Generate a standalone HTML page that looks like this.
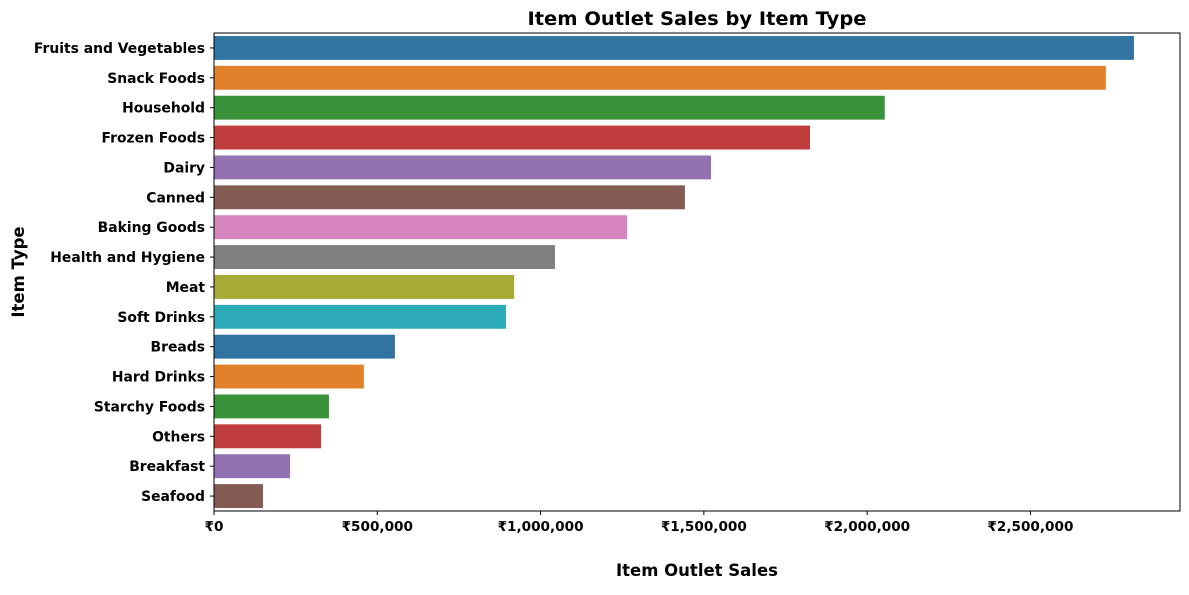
<!DOCTYPE html>
<html><head><meta charset="utf-8"><style>
body{margin:0;background:#fff;font-family:"Liberation Sans","DejaVu Sans",sans-serif}
</style></head><body>
<svg id="chart" width="1189" height="590" xmlns="http://www.w3.org/2000/svg" font-family="'DejaVu Sans','Liberation Sans',sans-serif">
<text x="697" y="25" text-anchor="middle" font-size="19" font-weight="bold" textLength="339" lengthAdjust="spacingAndGlyphs">Item Outlet Sales by Item Type</text>
<text x="697" y="576" text-anchor="middle" font-size="16.5" font-weight="bold">Item Outlet Sales</text>
<text transform="translate(24,272) rotate(-90)" text-anchor="middle" font-size="16.5" font-weight="bold">Item Type</text>
<g id="bars"></g>
<rect x="214" y="33" width="966" height="478" fill="none" stroke="#000" stroke-width="1"/>
</svg>
<script>
const categories=["Fruits and Vegetables","Snack Foods","Household","Frozen Foods","Dairy","Canned","Baking Goods","Health and Hygiene","Meat","Soft Drinks","Breads","Hard Drinks","Starchy Foods","Others","Breakfast","Seafood"];
const sales=[2817000,2731000,2054000,1825000,1522000,1442000,1265000,1044000,919000,894000,554000,459000,352000,328000,233000,150000];
const ticks=[0,500000,1000000,1500000,2000000,2500000];
const tickLabels=["₹0","₹500,000","₹1,000,000","₹1,500,000","₹2,000,000","₹2,500,000"];
const palette=["#3274a1","#e1812c","#3a923a","#c03d3e","#9372b2","#845b53","#d684bd","#7f7f7f","#a9aa35","#2eabb8"];
const NS="http://www.w3.org/2000/svg";
const x0=214,pw=966,y0=33,ph=478,xmax=2958000;
const xs=v=>x0+v/xmax*pw;
const step=ph/categories.length;
const g=document.getElementById('bars');
function mk(t,a){const e=document.createElementNS(NS,t);for(const k in a)e.setAttribute(k,a[k]);return e;}
categories.forEach((c,i)=>{
  const cy=y0+step*(i+0.5);
  const r=mk('rect',{x:x0,y:cy-step*0.4,width:xs(sales[i])-x0,height:step*0.8,fill:palette[i%10]});
  
  
  g.appendChild(r);
  const tk=mk('line',{x1:x0-4,x2:x0,y1:cy,y2:cy,stroke:'#000'});
  
  
  g.appendChild(tk);
  const t=mk('text',{x:x0-9,y:cy+5,'text-anchor':'end','font-size':13.9,'font-weight':'bold'});
  t.textContent=c;
  
  
  g.appendChild(t);
});
ticks.forEach((v,i)=>{
  const x=xs(v);
  const tk=mk('line',{x1:x,x2:x,y1:y0+ph,y2:y0+ph+4,stroke:'#000'});
  
  
  g.appendChild(tk);
  const t=mk('text',{x:x,y:531,'text-anchor':'middle','font-size':13.6,'font-weight':'bold'});
  t.textContent=tickLabels[i];
  
  
  g.appendChild(t);
});
</script>
</body></html>
